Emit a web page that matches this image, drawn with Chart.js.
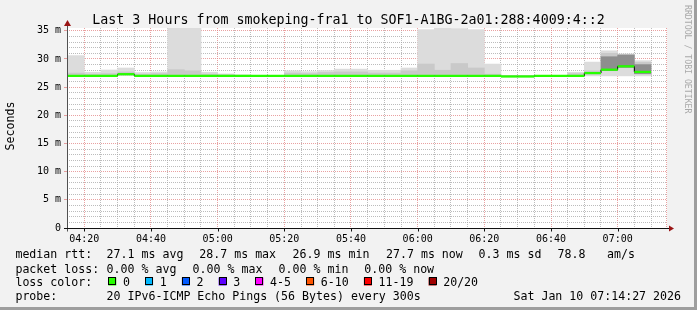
<!DOCTYPE html>
<html>
<head>
<meta charset="utf-8">
<script src="https://cdn.jsdelivr.net/npm/chart.js@4/dist/chart.umd.min.js"></script>
<style>
html,body{margin:0;padding:0;background:#f2f2f2;}
#wrap{width:697px;height:310px;position:relative;}
canvas{display:block;}
</style>
</head>
<body>
<div id="wrap"><canvas id="c" width="697" height="310"></canvas></div>
<script>
// ---- data (ms) ----
const times = ['04:15','04:20','04:25','04:30','04:35','04:40','04:45','04:50','04:55',
  '05:00','05:05','05:10','05:15','05:20','05:25','05:30','05:35','05:40','05:45','05:50','05:55',
  '06:00','06:05','06:10','06:15','06:20','06:25','06:30','06:35','06:40','06:45','06:50','06:55',
  '07:00','07:05'];
const median = [27.0,27.0,27.0,27.3,27.0,27.0,27.0,27.0,27.0,27.0,27.0,27.0,27.0,27.0,27.0,27.0,27.0,27.0,
  27.0,27.0,27.0,27.0,27.0,27.0,27.0,27.0,26.9,26.9,27.0,27.0,27.0,27.5,28.1,28.7,27.7];
const smokeMax = [30.6,27.65,28.05,28.4,27.6,27.7,35.5,35.5,27.65,27.35,27.2,27.1,27.1,27.9,27.75,27.95,28.2,28.2,
  28.0,28.0,28.4,35.2,35.5,35.4,35.2,29.1,27.1,27.1,27.1,27.1,27.65,29.45,31.45,30.9,29.7];
const smokeMin = [26.9,26.9,26.9,27.1,26.9,26.9,26.9,26.9,26.9,26.9,26.9,26.9,26.9,26.9,26.9,26.9,26.9,26.9,
  26.9,26.9,26.9,26.9,26.9,26.9,26.9,26.9,26.8,26.8,26.9,26.9,26.9,27.0,27.0,27.0,27.0];
const smokeMidTop = [27.5,27.3,27.4,27.7,27.3,27.4,28.1,27.9,27.3,27.2,27.1,27.05,27.05,27.5,27.4,27.6,27.7,27.7,
  27.5,27.5,27.9,29.1,28.0,29.2,28.4,27.3,27.0,27.0,27.0,27.0,27.4,27.9,31.0,30.8,29.4];
const smokeMidLow = [26.95,26.95,26.95,27.15,26.95,26.95,26.95,26.95,26.95,26.95,26.95,26.95,26.95,26.95,26.95,26.95,26.95,26.95,
  26.95,26.95,26.95,26.95,26.95,26.95,26.95,26.95,26.85,26.85,26.95,26.95,26.95,27.3,28.0,28.5,27.3];
const smokeDarkTop = [null,null,null,null,null,null,null,null,null,null,null,null,null,null,null,null,null,null,
  null,null,null,null,null,null,null,null,null,null,null,null,null,null,30.4,30.7,29.0];
const smokeDarkLow = [null,null,null,null,null,null,null,null,null,null,null,null,null,null,null,null,null,null,
  null,null,null,null,null,null,null,null,null,null,null,null,null,null,28.0,28.5,27.4];
const yTickLabels = ['0','5 m','10 m','15 m','20 m','25 m','30 m','35 m'];
const xTickLabels = ['04:20','04:40','05:00','05:20','05:40','06:00','06:20','06:40','07:00'];
const titleText = 'Last 3 Hours from smokeping-fra1 to SOF1-A1BG-2a01:288:4009:4::2';
const yTitle = 'Seconds';
const statLine1 = ['median rtt:','27.1 ms avg','28.7 ms max','26.9 ms min','27.7 ms now','0.3 ms sd','78.8','am/s'];
const statLine2 = ['packet loss:','0.00 % avg','0.00 % max','0.00 % min','0.00 % now'];
const lossTitle = 'loss color:';
const lossLabels = ['0','1','2','3','4-5','6-10','11-19','20/20'];
const lossColors = ['#26ff00','#00b8ff','#0059ff','#5e00ff','#ff00ff','#ff5500','#ff0000','#a10000'];
const probeLabel = 'probe:';
const probeText = '20 IPv6-ICMP Echo Pings (56 Bytes) every 300s';
const dateText = 'Sat Jan 10 07:14:27 2026';
const watermark = 'RRDTOOL / TOBI OETIKER';

// ---- helpers ----
const STEP = 5;
const toMin = s => { const [h, m] = s.split(':').map(Number); return h * 60 + m; };
const fmt = v => { const h = Math.floor(v / 60), m = Math.round(v % 60); return String(h).padStart(2,'0') + ':' + String(m).padStart(2,'0'); };
const X_MIN = toMin('04:14') + 0.8, X_MAX = X_MIN + 180;
const MONO = '"DejaVu Sans Mono", "Liberation Mono", monospace';
const HALF_LINE = 0.2;

const band = (lo, hi) => times.map((t, i) => (hi[i] == null ? null : { x: toMin(t) + STEP / 2, y: [lo[i], hi[i]] })).filter(Boolean);
const medianBars = times.map((t, i) => ({ x: toMin(t) + STEP / 2, y: [median[i] - HALF_LINE, median[i] + HALF_LINE] }));
const medianStep = times.map((t, i) => ({ x: toMin(t), y: median[i] }))
  .concat([{ x: toMin(times[times.length - 1]) + STEP, y: median[median.length - 1] }]);

const xTickValues = [];
for (let v = Math.ceil(X_MIN / STEP) * STEP; v < X_MAX; v += STEP) xTickValues.push(v);
const yTickValues = [];
for (let v = 0; v <= 35; v++) yTickValues.push(v);

const MAJOR = 'rgba(225,130,130,0.75)';
const MINOR = 'rgba(165,165,165,0.75)';

const barCommon = { type: 'bar', grouped: false, barPercentage: 1, categoryPercentage: 1, borderWidth: 0 };

const decor = {
  id: 'decor',
  beforeDraw(chart) {
    const { ctx, chartArea: a } = chart;
    ctx.save();
    ctx.fillStyle = '#f2f2f2';
    ctx.fillRect(0, 0, chart.width, chart.height);
    ctx.fillStyle = '#9e9e9e';
    ctx.fillRect(chart.width - 3, 0, 3, chart.height);
    ctx.fillRect(0, chart.height - 3, chart.width, 3);
    ctx.fillStyle = '#ffffff';
    ctx.fillRect(a.left, a.top, a.right - a.left, a.bottom - a.top);
    ctx.restore();
  },
  afterDraw(chart) {
    const { ctx, chartArea: a } = chart;
    const xs = chart.scales.x;
    ctx.save();
    // right edge dotted line
    ctx.strokeStyle = MAJOR; ctx.lineWidth = 1; ctx.setLineDash([1, 1]);
    ctx.beginPath(); ctx.moveTo(Math.round(a.right) - 0.5, a.top); ctx.lineTo(Math.round(a.right) - 0.5, a.bottom); ctx.stroke();
    ctx.setLineDash([]);
    // axes
    const x0 = Math.round(a.left) + 0.5, y0 = Math.round(a.bottom) + 0.5;
    ctx.strokeStyle = '#505050';
    ctx.beginPath(); ctx.moveTo(x0, y0 + 3); ctx.lineTo(x0, a.top - 3); ctx.stroke();
    ctx.strokeStyle = '#111111';
    ctx.beginPath(); ctx.moveTo(a.left - 3, y0); ctx.lineTo(a.right + 3, y0); ctx.stroke();
    // major tick marks below x axis
    ctx.beginPath();
    xTickValues.filter(v => xTickLabels.includes(fmt(v))).forEach(v => {
      const px = Math.round(xs.getPixelForValue(v)) + 0.5;
      ctx.moveTo(px, y0); ctx.lineTo(px, y0 + 3);
    });
    ctx.stroke();
    ctx.fillStyle = '#9a1515';
    ctx.beginPath(); ctx.moveTo(x0 - 3.5, a.top - 2); ctx.lineTo(x0 + 3.5, a.top - 2); ctx.lineTo(x0, a.top - 8); ctx.closePath(); ctx.fill();
    ctx.beginPath(); ctx.moveTo(a.right + 2, y0 - 3); ctx.lineTo(a.right + 2, y0 + 3); ctx.lineTo(a.right + 7, y0); ctx.closePath(); ctx.fill();
    // title
    ctx.fillStyle = '#000';
    ctx.font = '13.3px ' + MONO;
    ctx.textAlign = 'center'; ctx.textBaseline = 'alphabetic';
    ctx.fillText(titleText, chart.width / 2, 24);
    // y title
    ctx.font = '11.6px ' + MONO;
    ctx.save(); ctx.translate(10.5, (a.top + a.bottom) / 2 - 2); ctx.rotate(-Math.PI / 2);
    ctx.textAlign = 'center'; ctx.textBaseline = 'middle'; ctx.fillText(yTitle, 0, 0); ctx.restore();
    // watermark
    ctx.save(); ctx.translate(687, 5); ctx.rotate(Math.PI / 2);
    ctx.font = '8.2px ' + MONO; ctx.fillStyle = '#a9a9a9'; ctx.textAlign = 'left'; ctx.textBaseline = 'middle';
    ctx.fillText(watermark, 0, 0); ctx.restore();
    // legend / stats
    ctx.font = '11.6px ' + MONO; ctx.fillStyle = '#000'; ctx.textAlign = 'left'; ctx.textBaseline = 'alphabetic';
    const L = 15.4, C = 106.6;
    const l1x = [L, C, 199.3, 292.6, 386, 478.6, 557.6, 607];
    statLine1.forEach((s, i) => ctx.fillText(s, l1x[i], 258));
    const l2x = [L, C, 192.6, 278.6, 364.3];
    statLine2.forEach((s, i) => ctx.fillText(s, l2x[i], 272.5));
    ctx.fillText(lossTitle, L, 286);
    let bx = 108.3;
    lossLabels.forEach((lab, i) => {
      ctx.fillStyle = lossColors[i];
      ctx.fillRect(bx, 277.5, 8, 8);
      ctx.strokeStyle = '#000'; ctx.lineWidth = 1;
      ctx.strokeRect(Math.round(bx) + 0.5, 277.5, 7, 7);
      ctx.fillStyle = '#000';
      const tx = bx + 14.6;
      ctx.fillText(lab, tx, 286);
      bx = tx + ctx.measureText(lab).width + 15.2;
    });
    ctx.fillText(probeLabel, L, 300);
    ctx.fillText(probeText, C, 300);
    ctx.textAlign = 'right';
    ctx.fillText(dateText, 681, 300);
    ctx.restore();
  }
};

new Chart(document.getElementById('c'), {
  type: 'bar',
  data: {
    datasets: [
      Object.assign({ label: 'smoke outer', data: band(smokeMin, smokeMax), backgroundColor: '#dcdcdc', order: 6 }, barCommon),
      Object.assign({ label: 'smoke mid', data: band(smokeMidLow, smokeMidTop), backgroundColor: '#c9c9c9', order: 5 }, barCommon),
      Object.assign({ label: 'smoke inner', data: band(smokeDarkLow, smokeDarkTop), backgroundColor: '#8e8e8e', order: 4 }, barCommon),
      { type: 'line', label: 'median step', data: medianStep, stepped: 'before', borderColor: '#000', borderWidth: 1,
        pointRadius: 0, fill: false, order: 3 },
      Object.assign({ label: 'median rtt', data: medianBars, backgroundColor: '#26ff00', order: 2 }, barCommon, { inflateAmount: 0 })
    ]
  },
  options: {
    responsive: false,
    animation: false,
    devicePixelRatio: 1,
    layout: { padding: { top: 28, right: 30, left: 0, bottom: 0 } },
    plugins: { legend: { display: false }, title: { display: false }, tooltip: { enabled: false } },
    scales: {
      x: {
        type: 'linear', min: X_MIN, max: X_MAX, offset: false, z: 1,
        afterBuildTicks: s => { s.ticks = xTickValues.map(v => ({ value: v })); },
        afterFit: s => { s.height = 82; },
        ticks: {
          autoSkip: false, maxRotation: 0, minRotation: 0, padding: 5, color: '#000',
          font: { family: MONO, size: 10 },
          callback: v => (xTickLabels.includes(fmt(v)) ? fmt(v) : '')
        },
        grid: { offset: false, drawTicks: false,
          color: c => (c.tick && xTickLabels.includes(fmt(c.tick.value)) ? MAJOR : MINOR), lineWidth: 1 },
        border: { display: false, dash: [1, 1] }
      },
      y: {
        type: 'linear', min: 0, max: 35.5, z: 1,
        afterBuildTicks: s => { s.ticks = yTickValues.map(v => ({ value: v })); },
        afterFit: s => { s.width = 67; },
        ticks: {
          autoSkip: false, padding: 3, color: '#000', font: { family: MONO, size: 10 },
          callback: v => (v % 5 === 0 ? yTickLabels[v / 5] : '')
        },
        grid: { drawTicks: true, tickLength: 3,
          tickColor: c => (c.tick && c.tick.value % 5 === 0 ? MAJOR : 'rgba(0,0,0,0)'),
          color: c => (c.tick && c.tick.value % 5 === 0 ? MAJOR : MINOR), lineWidth: 1 },
        border: { display: false, dash: [1, 1] }
      }
    }
  },
  plugins: [decor]
});
</script>
</body>
</html>
